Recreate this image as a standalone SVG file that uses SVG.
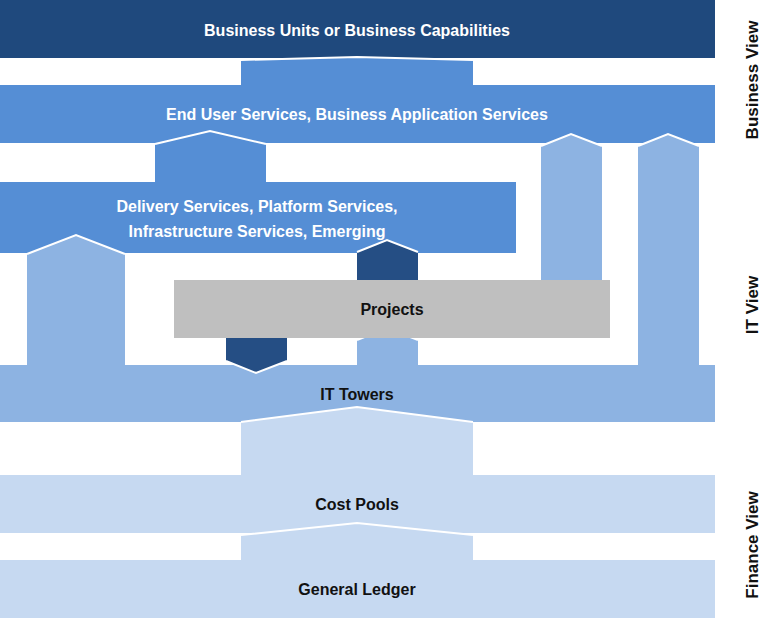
<svg xmlns="http://www.w3.org/2000/svg" width="762" height="618" viewBox="0 0 762 618">
<style>
text{font-family:"Liberation Sans",Arial,sans-serif;font-weight:bold;font-size:16px;text-anchor:middle}
.w{fill:#fff}.k{fill:#111}
.edge{fill:none;stroke:#fff;stroke-width:2}
.navy{fill:#1F497D}.mid{fill:#558ED5}.lt{fill:#8DB3E2}.vl{fill:#C6D9F1}.dk{fill:#254E84}.gr{fill:#BFBFBF}
</style>
<rect width="762" height="618" fill="#fff"/>
<g id="bars">
<g id="business-units"><rect class="navy" x="0" y="0" width="715" height="58"/><text class="w" x="357" y="36">Business Units or Business Capabilities</text></g>
<g id="end-user"><rect class="mid" x="0" y="85" width="715" height="58"/><text class="w" x="357" y="120">End User Services, Business Application Services</text></g>
<g id="delivery"><rect class="mid" x="0" y="182" width="516" height="71"/><text class="w" x="257" y="212">Delivery Services, Platform Services,</text><text class="w" x="257" y="237">Infrastructure Services, Emerging</text></g>
<g id="it-towers"><rect class="lt" x="0" y="365" width="715" height="57"/></g>
<g id="cost-pools"><rect class="vl" x="0" y="475" width="715" height="58"/></g>
<g id="general-ledger"><rect class="vl" x="0" y="560" width="715" height="58"/><text class="k" x="357" y="595">General Ledger</text></g>
</g>
<g id="connectors">
<polygon class="mid" points="241,86 241,60 357,57 473,60 473,86"/><polyline class="edge" points="241,60 357,57 473,60"/>
<polygon class="mid" points="155,183 155,144 210,131 266,144 266,183"/><polyline class="edge" points="155,144 210,131 266,144"/>
<polygon class="lt" points="541,280 541,146 571,134 602,146 602,280"/><polyline class="edge" points="541,146 571,134 602,146"/>
<polygon class="lt" points="638,366 638,146 668,134 699,146 699,366"/><polyline class="edge" points="638,146 668,134 699,146"/>
<polygon class="lt" points="27,366 27,254 76,235 125,254 125,366"/><polyline class="edge" points="27,254 76,235 125,254"/>
<polygon class="dk" points="357,281 357,252 387,240 418,252 418,281"/><polyline class="edge" points="357,252 387,240 418,252"/>
<polygon class="lt" points="357,366 357,340 387,328 418,340 418,366"/><polyline class="edge" points="357,340 387,328 418,340"/>
<polygon class="vl" points="241,476 241,422 357,407 473,422 473,476"/><polyline class="edge" points="241,422 357,407 473,422"/>
<polygon class="vl" points="241,561 241,535 357,523 473,535 473,561"/><polyline class="edge" points="241,535 357,523 473,535"/>
</g>
<g id="projects"><rect class="gr" x="174" y="280" width="436" height="58"/><text class="k" x="392" y="315">Projects</text></g>
<g id="down-arrow"><polygon class="dk" points="226,338 287,338 287,361 256,373 226,361"/><polyline class="edge" points="226,361 256,373 287,361"/></g>
<text class="k" x="357" y="400">IT Towers</text>
<text class="k" x="357" y="510">Cost Pools</text>
<g id="side-labels">
<text class="k" transform="translate(758,80) rotate(-90)" style="font-size:17px">Business View</text>
<text class="k" transform="translate(758,305) rotate(-90)" style="font-size:17px">IT View</text>
<text class="k" transform="translate(758,545) rotate(-90)" style="font-size:17px">Finance View</text>
</g>
</svg>
